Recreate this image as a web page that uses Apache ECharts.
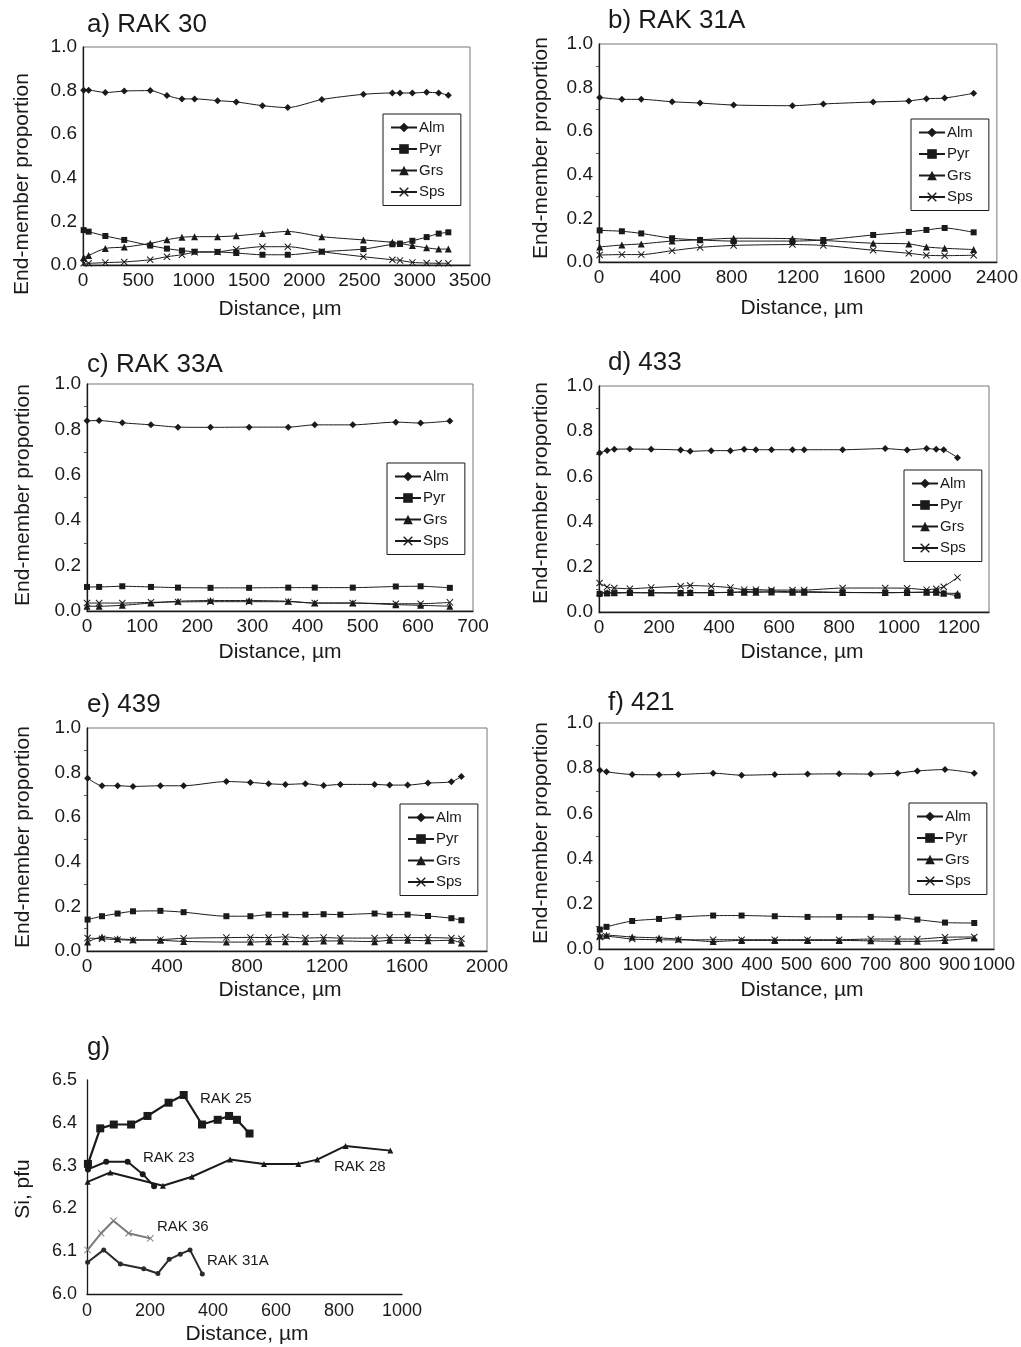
<!DOCTYPE html>
<html>
<head>
<meta charset="utf-8">
<script src="https://cdn.jsdelivr.net/npm/echarts@6/dist/echarts.min.js"></script>
<style>
  html, body { margin: 0; padding: 0; background: #fff; }
  #chart { width: 1021px; height: 1347px; }
</style>
</head>
<body>
<div id="chart"></div>
<script>
// a) RAK 30
var aDist = [6, 51, 202, 373, 608, 759, 895, 1009, 1217, 1386, 1623, 1852, 2160, 2536, 2798, 2867, 2979, 3108, 3217, 3304];
var aAlm = [0.802, 0.802, 0.791, 0.798, 0.800, 0.777, 0.762, 0.762, 0.754, 0.748, 0.731, 0.722, 0.759, 0.783, 0.789, 0.789, 0.789, 0.792, 0.789, 0.779];
var aPyr = [0.160, 0.153, 0.133, 0.115, 0.089, 0.075, 0.066, 0.061, 0.060, 0.055, 0.047, 0.047, 0.061, 0.073, 0.095, 0.098, 0.111, 0.128, 0.144, 0.150];
var aGrs = [0.034, 0.044, 0.076, 0.082, 0.099, 0.116, 0.127, 0.130, 0.130, 0.134, 0.145, 0.154, 0.130, 0.115, 0.104, 0.099, 0.089, 0.079, 0.073, 0.073];
var aSps = [0.008, 0.008, 0.011, 0.014, 0.024, 0.038, 0.047, 0.058, 0.060, 0.072, 0.084, 0.084, 0.061, 0.038, 0.024, 0.021, 0.012, 0.009, 0.008, 0.008];

// b) RAK 31A
var bDist = [4, 138, 255, 441, 610, 812, 1167, 1353, 1654, 1869, 1975, 2085, 2260];
var bAlm = [0.755, 0.746, 0.746, 0.735, 0.729, 0.720, 0.717, 0.725, 0.734, 0.739, 0.749, 0.752, 0.774];
var bPyr = [0.145, 0.141, 0.131, 0.109, 0.101, 0.096, 0.096, 0.101, 0.124, 0.138, 0.147, 0.156, 0.136];
var bGrs = [0.069, 0.078, 0.083, 0.096, 0.102, 0.109, 0.107, 0.099, 0.086, 0.083, 0.069, 0.063, 0.057];
var bSps = [0.032, 0.034, 0.034, 0.052, 0.067, 0.076, 0.080, 0.076, 0.054, 0.040, 0.031, 0.029, 0.031];

// c) RAK 33A
var cDist = [0, 22, 64, 116, 165, 224, 294, 365, 413, 482, 560, 605, 658];
var cAlm = [0.838, 0.839, 0.829, 0.820, 0.810, 0.809, 0.810, 0.810, 0.820, 0.820, 0.832, 0.828, 0.837];
var cPyr = [0.106, 0.106, 0.109, 0.106, 0.103, 0.102, 0.102, 0.103, 0.103, 0.103, 0.108, 0.109, 0.102];
var cGrs = [0.021, 0.021, 0.025, 0.035, 0.043, 0.046, 0.046, 0.043, 0.035, 0.035, 0.028, 0.025, 0.021];
var cSps = [0.035, 0.035, 0.035, 0.038, 0.040, 0.041, 0.041, 0.041, 0.035, 0.035, 0.032, 0.032, 0.038];

// d) 433
var dDist = [2, 27, 51, 103, 174, 272, 304, 374, 438, 484, 523, 575, 645, 684, 812, 954, 1027, 1092, 1124, 1149, 1195];
var dAlm = [0.704, 0.715, 0.720, 0.721, 0.720, 0.717, 0.711, 0.714, 0.714, 0.720, 0.718, 0.718, 0.718, 0.718, 0.718, 0.723, 0.717, 0.723, 0.720, 0.718, 0.683];
var dPyr = [0.080, 0.082, 0.083, 0.085, 0.085, 0.084, 0.085, 0.085, 0.087, 0.090, 0.092, 0.092, 0.090, 0.090, 0.087, 0.085, 0.087, 0.088, 0.088, 0.082, 0.072];
var dGrs = [0.086, 0.086, 0.086, 0.086, 0.085, 0.085, 0.086, 0.086, 0.087, 0.087, 0.087, 0.088, 0.087, 0.087, 0.086, 0.086, 0.086, 0.087, 0.087, 0.084, 0.082];
var dSps = [0.128, 0.111, 0.106, 0.103, 0.108, 0.114, 0.117, 0.114, 0.108, 0.099, 0.099, 0.097, 0.097, 0.097, 0.106, 0.106, 0.105, 0.099, 0.103, 0.112, 0.153];

// e) 439
var eDist = [3, 75, 153, 230, 367, 483, 697, 817, 908, 992, 1092, 1183, 1267, 1438, 1513, 1603, 1705, 1822, 1872];
var eAlm = [0.775, 0.741, 0.741, 0.738, 0.741, 0.741, 0.760, 0.756, 0.750, 0.747, 0.750, 0.742, 0.747, 0.747, 0.744, 0.744, 0.753, 0.759, 0.783];
var ePyr = [0.141, 0.156, 0.168, 0.178, 0.180, 0.174, 0.156, 0.156, 0.163, 0.163, 0.163, 0.165, 0.163, 0.168, 0.163, 0.163, 0.157, 0.147, 0.138];
var eGrs = [0.040, 0.063, 0.055, 0.051, 0.048, 0.043, 0.040, 0.040, 0.042, 0.042, 0.042, 0.045, 0.045, 0.042, 0.048, 0.048, 0.046, 0.048, 0.036];
var eSps = [0.058, 0.055, 0.051, 0.048, 0.051, 0.057, 0.060, 0.061, 0.060, 0.063, 0.058, 0.060, 0.058, 0.058, 0.060, 0.060, 0.060, 0.058, 0.055];

// f) 421
var fDist = [2, 19, 84, 152, 201, 289, 361, 445, 528, 608, 688, 756, 806, 876, 950];
var fAlm = [0.791, 0.784, 0.772, 0.771, 0.772, 0.778, 0.769, 0.772, 0.774, 0.775, 0.774, 0.778, 0.788, 0.794, 0.778];
var fPyr = [0.086, 0.098, 0.124, 0.133, 0.141, 0.148, 0.148, 0.145, 0.142, 0.142, 0.142, 0.139, 0.130, 0.117, 0.115];
var fGrs = [0.059, 0.061, 0.053, 0.049, 0.044, 0.033, 0.038, 0.038, 0.038, 0.038, 0.036, 0.034, 0.034, 0.038, 0.049];
var fSps = [0.053, 0.056, 0.044, 0.041, 0.040, 0.041, 0.041, 0.041, 0.041, 0.041, 0.044, 0.044, 0.044, 0.052, 0.053];

// g) Si, pfu
var rak25Dist = [3, 42, 85, 140, 192, 259, 307, 365, 415, 451, 476, 516];
var rak25Si = [6.304, 6.387, 6.396, 6.396, 6.416, 6.447, 6.465, 6.396, 6.407, 6.416, 6.407, 6.375];
var rak23Dist = [3, 61, 129, 177, 213];
var rak23Si = [6.291, 6.309, 6.309, 6.280, 6.252];
var rak28Dist = [2, 74, 241, 333, 454, 562, 671, 731, 821, 963];
var rak28Si = [6.262, 6.284, 6.253, 6.274, 6.314, 6.304, 6.304, 6.314, 6.346, 6.335];
var rak36Dist = [2, 45, 84, 132, 201];
var rak36Si = [6.103, 6.142, 6.171, 6.142, 6.130];
var rak31aDist = [2, 53, 106, 180, 225, 261, 296, 327, 366];
var rak31aSi = [6.074, 6.103, 6.070, 6.059, 6.048, 6.081, 6.093, 6.103, 6.047];

var memberNames = ['Alm', 'Pyr', 'Grs', 'Sps'];
var FONT = '"Liberation Sans", Arial, Helvetica, sans-serif';
var INK = '#1a1a1a';
var xMark = 'path://M0,1L1,0L5,4L9,0L10,1L6,5L10,9L9,10L5,6L1,10L0,9L4,5Z';
var memberSymbols = ['diamond', 'rect', 'triangle', xMark];
var memberSizes = [7, 6, 7, 7];

function zip(xs, ys) {
    var out = [];
    for (var i = 0; i < xs.length; i++) out.push([xs[i], ys[i]]);
    return out;
}
function plainNum(v) { return String(v); }
function oneDec(v) { return v.toFixed(1); }

var grids = [], xAxes = [], yAxes = [], series = [], legends = [], titles = [], graphics = [];

function addTitle(text, x, y) {
    titles.push({ text: text, left: x, top: y, padding: 0,
        textStyle: { color: INK, fontFamily: FONT, fontSize: 26, fontWeight: 'normal' } });
}

// one end-member panel: grid box, x range, data, legend spot, label spots
function addPanel(p) {
    var gi = grids.length;
    grids.push({ left: p.box[0], top: p.box[1], width: p.box[2], height: p.box[3],
        show: true, borderColor: '#777', borderWidth: 1, backgroundColor: 'transparent' });
    xAxes.push({
        gridIndex: gi, type: 'value', min: 0, max: p.xmax, interval: p.xint,
        axisLine: { show: true, onZero: false, lineStyle: { color: INK, width: 1.3 } },
        axisTick: { show: false },
        splitLine: { show: false },
        axisLabel: { color: INK, fontFamily: FONT, fontSize: 19, margin: 6, formatter: plainNum,
            showMaxLabel: p.hideMax ? false : true }
    });
    yAxes.push({
        gridIndex: gi, type: 'value', min: 0, max: 1, interval: 0.2,
        axisLine: { show: true, onZero: false, lineStyle: { color: INK, width: 1.3 } },
        axisTick: { show: false },
        minorTick: { show: p.minor, splitNumber: 2, length: 3, lineStyle: { color: '#555' } },
        splitLine: { show: false },
        axisLabel: { color: INK, fontFamily: FONT, fontSize: 19, margin: 6, formatter: oneDec }
    });
    var sets = [p.alm, p.pyr, p.grs, p.sps];
    for (var k = 0; k < 4; k++) {
        series.push({
            name: memberNames[k], type: 'line', xAxisIndex: gi, yAxisIndex: gi,
            data: zip(p.dist, sets[k]), smooth: 0.25,
            symbol: memberSymbols[k], symbolSize: memberSizes[k],
            lineStyle: { color: INK, width: 1 },
            itemStyle: { color: INK },
            z: 5 - k
        });
    }
    legends.push({
        data: memberNames, orient: 'vertical', left: p.leg[0], top: p.leg[1],
        itemWidth: 26, itemHeight: 12, itemGap: 6.5,
        padding: [6, 16, 6, 7],
        borderColor: INK, borderWidth: 1, backgroundColor: '#fff',
        textStyle: { color: INK, fontFamily: FONT, fontSize: 15, padding: [0, 0, 0, -3] },
        selectedMode: false
    });
    addTitle(p.title, p.tpos[0], p.tpos[1]);
    graphics.push({ type: 'text', x: p.ytl[0], y: p.ytl[1], rotation: Math.PI / 2,
        style: { text: 'End-member proportion', fill: INK, font: '21px ' + FONT,
            align: 'center', verticalAlign: 'middle' } });
    graphics.push({ type: 'text', x: p.xtl[0], y: p.xtl[1],
        style: { text: 'Distance, \u00b5m', fill: INK, font: '21px ' + FONT,
            align: 'center', verticalAlign: 'middle' } });
}

addPanel({ title: 'a) RAK 30', tpos: [87, 12], box: [83, 47, 387, 218], xmax: 3500, xint: 500,
    dist: aDist, alm: aAlm, pyr: aPyr, grs: aGrs, sps: aSps, leg: [383, 114],
    ytl: [22, 184], xtl: [280, 309], minor: false });
addPanel({ title: 'b) RAK 31A', tpos: [608, 8], box: [599, 44, 399, 218], xmax: 2400, xint: 400,
    dist: bDist, alm: bAlm, pyr: bPyr, grs: bGrs, sps: bSps, leg: [911, 119],
    ytl: [541, 148], xtl: [802, 308], minor: true });
addPanel({ title: 'c) RAK 33A', tpos: [87, 352], box: [87, 384, 386, 227], xmax: 700, xint: 100,
    dist: cDist, alm: cAlm, pyr: cPyr, grs: cGrs, sps: cSps, leg: [387, 463],
    ytl: [23, 495], xtl: [280, 652], minor: true });
addPanel({ title: 'd) 433', tpos: [608, 350], box: [599, 386, 390, 226], xmax: 1300, xint: 200, hideMax: true,
    dist: dDist, alm: dAlm, pyr: dPyr, grs: dGrs, sps: dSps, leg: [904, 470],
    ytl: [541, 493], xtl: [802, 652], minor: true });
addPanel({ title: 'e) 439', tpos: [87, 692], box: [87, 728, 400, 223], xmax: 2000, xint: 400,
    dist: eDist, alm: eAlm, pyr: ePyr, grs: eGrs, sps: eSps, leg: [400, 804],
    ytl: [23, 837], xtl: [280, 990], minor: true });
addPanel({ title: 'f) 421', tpos: [608, 690], box: [599, 723, 395, 226], xmax: 1000, xint: 100,
    dist: fDist, alm: fAlm, pyr: fPyr, grs: fGrs, sps: fSps, leg: [909, 803],
    ytl: [541, 833], xtl: [802, 990], minor: true });

// g) silicon profiles
var gi = grids.length;
grids.push({ left: 87, top: 1080, width: 315, height: 214, show: false });
xAxes.push({
    gridIndex: gi, type: 'value', min: 0, max: 1000, interval: 200,
    axisLine: { show: true, onZero: false, lineStyle: { color: INK, width: 1.3 } },
    axisTick: { show: false }, splitLine: { show: false },
    axisLabel: { color: INK, fontFamily: FONT, fontSize: 18, margin: 8, formatter: plainNum }
});
yAxes.push({
    gridIndex: gi, type: 'value', min: 6.0, max: 6.5, interval: 0.1,
    axisLine: { show: true, onZero: false, lineStyle: { color: INK, width: 1.3 } },
    axisTick: { show: false }, splitLine: { show: false },
    axisLabel: { color: INK, fontFamily: FONT, fontSize: 18, margin: 10, formatter: oneDec }
});
var gSets = [
    { name: 'RAK 25', d: zip(rak25Dist, rak25Si), sym: 'rect', size: 8, color: INK, w: 2.2 },
    { name: 'RAK 23', d: zip(rak23Dist, rak23Si), sym: 'circle', size: 6, color: INK, w: 2 },
    { name: 'RAK 28', d: zip(rak28Dist, rak28Si), sym: 'triangle', size: 6, color: INK, w: 2 },
    { name: 'RAK 36', d: zip(rak36Dist, rak36Si), sym: xMark, size: 7, color: '#7a7a7a', w: 2 },
    { name: 'RAK 31A', d: zip(rak31aDist, rak31aSi), sym: 'circle', size: 5, color: '#2a2a2a', w: 2 }
];
gSets.forEach(function (s) {
    series.push({ name: s.name, type: 'line', xAxisIndex: gi, yAxisIndex: gi, data: s.d,
        symbol: s.sym, symbolSize: s.size,
        lineStyle: { color: s.color, width: s.w }, itemStyle: { color: s.color } });
});
addTitle('g)', 87, 1035);
graphics.push({ type: 'text', x: 23, y: 1189, rotation: Math.PI / 2,
    style: { text: 'Si, pfu', fill: INK, font: '21px ' + FONT, align: 'center', verticalAlign: 'middle' } });
graphics.push({ type: 'text', x: 247, y: 1334,
    style: { text: 'Distance, \u00b5m', fill: INK, font: '21px ' + FONT, align: 'center', verticalAlign: 'middle' } });

var gLabels = [['RAK 25', 200, 1099], ['RAK 23', 143, 1158], ['RAK 28', 334, 1167], ['RAK 36', 157, 1227], ['RAK 31A', 207, 1261]];
gLabels.forEach(function (l) {
    graphics.push({ type: 'text', x: l[1], y: l[2],
        style: { text: l[0], fill: INK, font: '15px ' + FONT, align: 'left', verticalAlign: 'middle' } });
});

var chart = echarts.init(document.getElementById('chart'), null, { renderer: 'canvas' });
chart.setOption({
    backgroundColor: '#fff',
    animation: false,
    title: titles,
    legend: legends,
    grid: grids,
    xAxis: xAxes,
    yAxis: yAxes,
    series: series,
    graphic: graphics
});
</script>
</body>
</html>
